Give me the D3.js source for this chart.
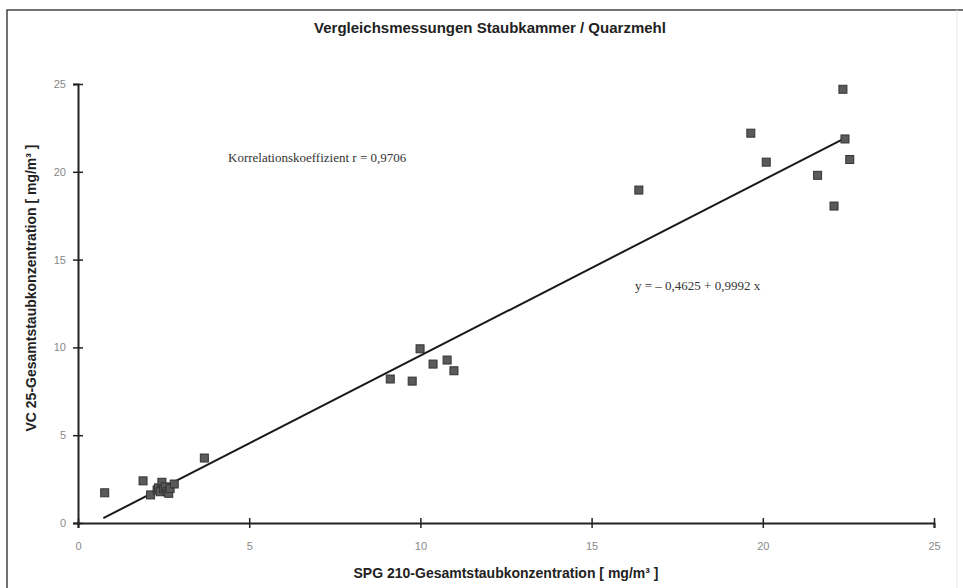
<!DOCTYPE html>
<html>
<head>
<meta charset="utf-8">
<script src="https://cdn.jsdelivr.net/npm/d3@7"></script>
<style>
  body { margin: 0; background: #fff; }
  svg { display: block; }
</style>
</head>
<body>
<div class="canvas"></div>
<script>
// data (SPG 210 vs VC 25, mg/m³)
const spgValues = [0.78, 1.9, 2.12, 2.31, 2.35, 2.4, 2.45, 2.5, 2.55, 2.6, 2.65, 2.69, 2.81, 3.69,
  9.12, 9.76, 9.99, 10.37, 10.78, 10.98, 16.38, 19.65, 20.1, 21.6, 22.08, 22.34, 22.4, 22.54];
const vcValues = [1.72, 2.4, 1.6, 1.88, 2.0, 1.78, 2.32, 1.95, 2.06, 1.78, 1.69, 1.97, 2.22, 3.7,
  8.2, 8.08, 9.92, 9.05, 9.28, 8.67, 18.96, 22.2, 20.55, 19.8, 18.05, 24.7, 21.87, 20.7];
const xTicks = [0, 5, 10, 15, 20, 25];
const yTicks = [0, 5, 10, 15, 20, 25];
const intercept = -0.4625;
const slope = 0.9992;
const fitRange = [0.74, 22.4];

const WIDTH = 963, HEIGHT = 588;
const MARGIN = { left: 78, right: 29, top: 84, bottom: 65 };
const GRAPH_WIDTH = WIDTH - MARGIN.left - MARGIN.right;
const GRAPH_HEIGHT = HEIGHT - MARGIN.top - MARGIN.bottom;

const points = spgValues.map((v, i) => ({ x: v, y: vcValues[i] }));

const svg = d3.select('.canvas').append('svg')
  .attr('width', WIDTH)
  .attr('height', HEIGHT)
  .style('font-family', 'Arial, "Liberation Sans", sans-serif');

// outer frame of the scanned figure
svg.append('path')
  .attr('d', `M7,${HEIGHT} L7,10 L${WIDTH},10`)
  .attr('fill', 'none')
  .attr('stroke', '#444')
  .attr('stroke-width', 1.5);
svg.append('line')
  .attr('x1', 957).attr('x2', 957).attr('y1', 10).attr('y2', HEIGHT)
  .attr('stroke', '#e6e6e6').attr('stroke-width', 1);

svg.append('text')
  .attr('x', 490).attr('y', 33)
  .attr('text-anchor', 'middle')
  .attr('font-size', 15).attr('font-weight', 'bold')
  .attr('fill', '#222')
  .text('Vergleichsmessungen Staubkammer / Quarzmehl');

const graph = svg.append('g')
  .attr('transform', `translate(${MARGIN.left}, ${MARGIN.top})`);

//scales
const x = d3.scaleLinear().domain([0, 25]).range([0, GRAPH_WIDTH]);
const y = d3.scaleLinear().domain([0, 25]).range([GRAPH_HEIGHT, 0]);

//axes, ticks cross the axis line
const xAxis = d3.axisBottom(x).tickValues(xTicks).tickSize(5).tickPadding(14);
const yAxis = d3.axisLeft(y).tickValues(yTicks).tickSize(5).tickPadding(7);

const xAxisGroup = graph.append('g')
  .attr('class', 'x-axis')
  .attr('transform', `translate(0, ${GRAPH_HEIGHT})`)
  .call(xAxis);
const yAxisGroup = graph.append('g')
  .attr('class', 'y-axis')
  .call(yAxis);

[xAxisGroup, yAxisGroup].forEach(g => {
  g.select('.domain').attr('stroke', '#222').attr('stroke-width', 2);
  g.selectAll('.tick line').attr('stroke', '#222').attr('stroke-width', 1.5);
  g.selectAll('.tick text')
    .attr('fill', '#888')
    .attr('font-size', 11)
    .attr('font-family', 'Arial, "Liberation Sans", sans-serif');
});
xAxisGroup.selectAll('.tick line').attr('y1', -5);
yAxisGroup.selectAll('.tick line').attr('x1', 5);

//regression line
const line = d3.line()
  .x(d => x(d))
  .y(d => y(intercept + slope * d));

graph.append('path')
  .datum(fitRange)
  .attr('d', line)
  .attr('fill', 'none')
  .attr('stroke', '#1a1a1a')
  .attr('stroke-width', 2);

//square markers
const size = 8;
graph.selectAll('rect.pt')
  .data(points)
  .enter().append('rect')
  .attr('class', 'pt')
  .attr('x', d => x(d.x) - size / 2)
  .attr('y', d => y(d.y) - size / 2)
  .attr('width', size)
  .attr('height', size)
  .attr('fill', '#5a5a5a')
  .attr('stroke', '#333')
  .attr('stroke-width', 1);

//annotations
svg.append('text')
  .attr('x', 228).attr('y', 162)
  .attr('font-family', '"Liberation Serif", "Times New Roman", serif')
  .attr('font-size', 13)
  .attr('fill', '#333')
  .text('Korrelationskoeffizient r = 0,9706');

svg.append('text')
  .attr('x', 635).attr('y', 290)
  .attr('font-family', '"Liberation Serif", "Times New Roman", serif')
  .attr('font-size', 13)
  .attr('fill', '#333')
  .text('y = – 0,4625 + 0,9992 x');

//axis titles
svg.append('text')
  .attr('x', 506).attr('y', 578)
  .attr('text-anchor', 'middle')
  .attr('font-size', 14).attr('font-weight', 'bold')
  .attr('fill', '#222')
  .text('SPG 210-Gesamtstaubkonzentration [ mg/m³ ]');

svg.append('text')
  .attr('transform', 'translate(36, 288) rotate(-90)')
  .attr('text-anchor', 'middle')
  .attr('font-size', 14).attr('font-weight', 'bold')
  .attr('fill', '#222')
  .text('VC 25-Gesamtstaubkonzentration [ mg/m³ ]');
</script>
</body>
</html>
